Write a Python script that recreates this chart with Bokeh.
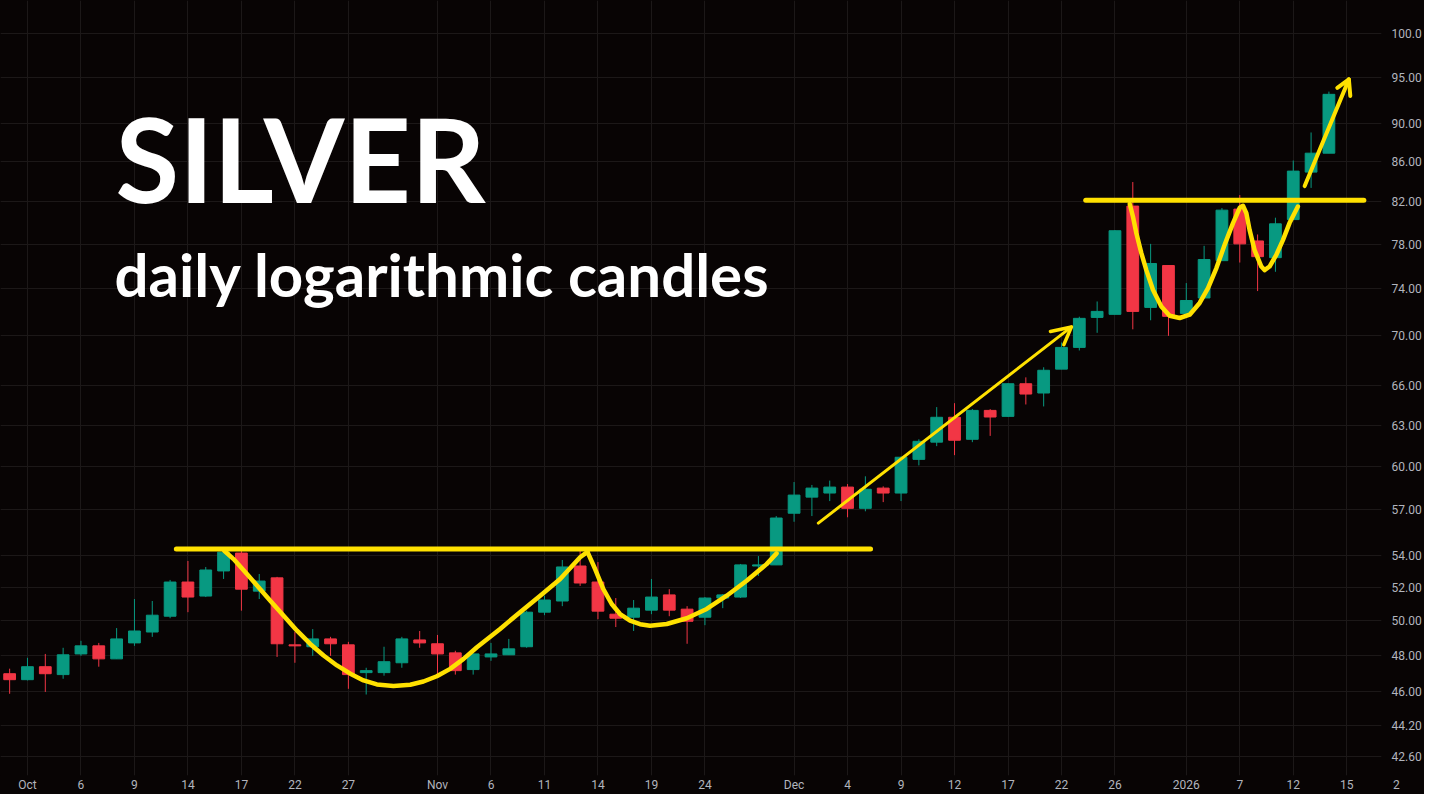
import numpy as np
from bokeh.plotting import figure
from bokeh.models import Range1d, FixedTicker, CustomJSTickFormatter, Label, ColumnDataSource
from bokeh.embed import file_html
from bokeh.resources import INLINE

# ---------------- data (daily silver candles, Sep 30 2025 -> Jan 14 2026) ----------------
dates = ["2025-09-30", "2025-10-01", "2025-10-02", "2025-10-03", "2025-10-06", "2025-10-07", "2025-10-08",
         "2025-10-09", "2025-10-10", "2025-10-13", "2025-10-14", "2025-10-15", "2025-10-16", "2025-10-17",
         "2025-10-20", "2025-10-21", "2025-10-22", "2025-10-23", "2025-10-24", "2025-10-27", "2025-10-28",
         "2025-10-29", "2025-10-30", "2025-10-31", "2025-11-03", "2025-11-04", "2025-11-05", "2025-11-06",
         "2025-11-07", "2025-11-10", "2025-11-11", "2025-11-12", "2025-11-13", "2025-11-14", "2025-11-17",
         "2025-11-18", "2025-11-19", "2025-11-20", "2025-11-21", "2025-11-24", "2025-11-25", "2025-11-26",
         "2025-11-27", "2025-11-28", "2025-12-01", "2025-12-02", "2025-12-03", "2025-12-04", "2025-12-05",
         "2025-12-08", "2025-12-09", "2025-12-10", "2025-12-11", "2025-12-12", "2025-12-15", "2025-12-16",
         "2025-12-17", "2025-12-18", "2025-12-19", "2025-12-22", "2025-12-23", "2025-12-24", "2025-12-26",
         "2025-12-29", "2025-12-30", "2025-12-31", "2026-01-02", "2026-01-05", "2026-01-06", "2026-01-07",
         "2026-01-08", "2026-01-09", "2026-01-12", "2026-01-13", "2026-01-14"]

opens = [46.97, 46.64, 47.36, 46.92, 48.08, 48.54, 47.80, 48.71, 49.34, 50.27, 52.34, 51.48, 53.03, 54.16,
         51.78, 52.60, 48.60, 48.49, 48.94, 48.60, 47.03, 47.03, 47.58, 48.88, 48.66, 48.14, 47.20, 47.91,
         48.03, 48.49, 50.51, 51.18, 53.34, 52.34, 50.39, 50.21, 50.63, 51.55, 50.69, 50.21, 51.36, 51.42,
         53.34, 53.41, 56.77, 57.86, 58.14, 58.55, 57.10, 58.48, 58.14, 60.50, 61.74, 63.58, 61.95, 64.10,
         63.65, 66.15, 65.43, 67.30, 69.05, 71.54, 71.80, 81.59, 72.39, 76.06, 71.88, 73.20, 76.50, 81.30,
         78.30, 76.77, 80.30, 84.93, 86.85]
highs = [47.25, 47.86, 48.08, 48.43, 48.83, 48.71, 49.57, 51.30, 51.18, 52.47, 53.66, 53.28, 54.50, 54.50,
         52.84, 52.66, 49.34, 49.51, 49.06, 48.77, 47.30, 48.49, 49.06, 49.40, 49.17, 48.26, 48.10, 48.71,
         48.94, 50.60, 51.50, 53.72, 54.30, 53.59, 51.36, 51.24, 52.53, 51.90, 50.87, 51.42, 51.60, 53.47,
         53.97, 56.58, 58.90, 58.70, 59.00, 58.76, 59.30, 58.60, 60.70, 61.95, 64.35, 64.65, 64.20, 64.20,
         66.20, 66.65, 67.45, 69.45, 71.60, 72.90, 79.30, 83.94, 78.03, 76.10, 74.50, 77.85, 81.40, 82.66,
         78.90, 80.48, 86.10, 89.00, 93.40]
lows = [45.87, 46.60, 45.97, 46.69, 47.97, 47.36, 47.80, 48.54, 49.06, 50.15, 50.51, 51.42, 52.53, 50.60,
        51.30, 47.91, 47.58, 47.97, 47.97, 46.14, 45.83, 46.86, 47.30, 48.43, 46.92, 46.92, 46.92, 47.69,
        48.03, 48.43, 50.33, 50.87, 52.10, 50.09, 49.63, 49.40, 50.39, 50.27, 48.66, 49.74, 50.75, 51.36,
        52.72, 53.40, 56.20, 56.58, 57.59, 56.50, 56.90, 57.52, 57.59, 60.07, 61.45, 60.80, 61.74, 62.20,
        63.60, 64.55, 64.40, 67.30, 68.80, 70.25, 71.80, 70.54, 71.30, 70.00, 71.88, 73.20, 76.50, 76.33,
        73.80, 75.50, 80.30, 83.36, 86.85]
closes = [46.64, 47.36, 46.97, 48.03, 48.54, 47.80, 48.94, 49.40, 50.33, 52.34, 51.42, 53.09, 54.22, 51.90,
          52.40, 48.66, 48.54, 48.94, 48.66, 46.92, 47.14, 47.64, 48.94, 48.71, 48.08, 47.14, 48.08, 48.08,
          48.37, 50.51, 51.24, 53.28, 52.28, 50.57, 50.15, 50.75, 51.42, 50.63, 49.97, 51.36, 51.55, 53.41,
          53.41, 56.45, 58.00, 58.48, 58.55, 57.10, 58.40, 58.14, 60.65, 61.80, 63.58, 61.88, 64.10, 63.60,
          66.15, 65.35, 67.21, 69.05, 71.46, 72.05, 79.25, 72.05, 76.24, 71.63, 72.98, 76.60, 81.20, 78.03,
          76.86, 79.90, 85.03, 86.85, 93.10]

# time-axis ticks (bar number -> label); the last one sits at the right edge of the chart
X_START, X_END = -0.513, 76.95
time_tick_pos = [1, 4, 7, 10, 13, 16, 19, 24, 27, 30, 33, 36, 39, 44, 47, 50, 53, 56, 59, 62, 66, 69, 72, 75]
time_tick_labels = ["Oct", "6", "9", "14", "17", "22", "27", "Nov", "6", "11", "14", "19", "24",
                    "Dec", "4", "9", "12", "17", "22", "26", "2026", "7", "12", "15"]
edge_tick_label = "\u00a0" * 10 + "2"
price_ticks = [42.6, 44.2, 46, 48, 50, 52, 54, 57, 60, 63, 66, 70, 74, 78, 82, 86, 90, 95, 100]

# hand-drawn yellow annotations (bar number, price)
resist1_x = [9.35, 48.29]
resist1_y = [54.42, 54.42]
cup1_x = [12.04, 12.56, 13.31, 13.97, 14.62, 15.37, 16.12, 16.86, 17.61, 18.36, 19.11, 19.85, 20.60,
          21.53, 22.47, 23.21, 23.96, 24.71, 25.46, 26.21, 27.51, 28.63, 29.76, 30.88, 32.00, 32.41]
cup1_y = [54.31, 53.78, 52.84, 52.01, 51.20, 50.30, 49.42, 48.65, 47.99, 47.43, 46.97, 46.60, 46.38,
          46.29, 46.36, 46.54, 46.83, 47.24, 47.80, 48.46, 49.52, 50.51, 51.50, 52.53, 53.89, 54.24]
cup2_x = [32.41, 32.84, 33.30, 33.77, 34.24, 34.80, 35.36, 35.92, 36.86, 37.98, 39.10, 40.22, 41.34,
          42.46, 43.02]
cup2_y = [54.24, 53.15, 51.91, 51.00, 50.40, 50.01, 49.80, 49.71, 49.81, 50.15, 50.70, 51.50, 52.42,
          53.46, 54.14]
arrow1_x = [45.36, 59.56]
arrow1_y = [56.11, 70.74]
arrow1_head_x = [58.38, 59.56, 59.13]
arrow1_head_y = [70.36, 70.74, 69.27]
resist2_x = [60.36, 75.96]
resist2_y = [82.15, 82.15]
wcurve_x = [62.83, 63.01, 63.20, 63.48, 63.76, 64.13, 64.60, 65.07, 65.63, 66.19, 66.75, 67.22, 67.69,
            68.15, 68.62, 69.00, 69.18, 69.37, 69.55, 69.83, 70.21, 70.39, 70.67, 71.05, 71.42, 71.79, 72.26]
wcurve_y = [81.79, 80.57, 79.01, 77.18, 75.65, 73.91, 72.47, 71.68, 71.49, 71.77, 72.77, 74.06, 75.83,
            77.94, 79.97, 81.43, 81.62, 80.90, 79.33, 77.46, 75.97, 75.65, 75.97, 77.03, 78.38, 79.97, 81.55]
arrow2_x = [72.64, 75.12]
arrow2_y = [83.54, 94.76]
arrow2_head_x = [74.47, 75.12, 75.20]
arrow2_head_y = [93.82, 94.76, 92.92]

# ---------------- styling ----------------
BG = "#080404"
GRID = "#1c1818"
UP = "#089981"
DOWN = "#f23645"
YEL = "#ffe100"
AXIS_TXT = "#b2b5be"

o = np.array(opens)
c = np.array(closes)
src = ColumnDataSource(dict(
    x=np.arange(len(dates)),
    top=np.maximum(o, c),
    bottom=np.minimum(o, c),
    high=highs,
    low=lows,
    color=[UP if cc >= oo else DOWN for oo, cc in zip(opens, closes)],
))

p = figure(width=1424, height=794, y_axis_type="log", y_axis_location="right",
           x_range=Range1d(X_START, X_END), y_range=Range1d(41.65, 104.01),
           output_backend="svg", toolbar_location=None,
           min_border_left=0, min_border_top=0, min_border_right=42, min_border_bottom=17,
           background_fill_color=BG, border_fill_color=BG, outline_line_color=None)
p.styles = {"background-color": BG}

# grid
p.xgrid.ticker = FixedTicker(ticks=time_tick_pos)
p.xgrid.bounds = (X_START, time_tick_pos[-1] + 0.5)
p.ygrid.ticker = FixedTicker(ticks=price_ticks)
p.xgrid.grid_line_color = GRID
p.ygrid.grid_line_color = GRID

# axes
axis_ticks = time_tick_pos + [X_END]
axis_labels = time_tick_labels + [edge_tick_label]
p.xaxis.ticker = FixedTicker(ticks=axis_ticks)
p.xaxis.major_label_overrides = dict(zip(axis_ticks, axis_labels))
p.yaxis.ticker = FixedTicker(ticks=price_ticks)
p.yaxis.formatter = CustomJSTickFormatter(code="return tick >= 100 ? tick.toFixed(1) : tick.toFixed(2);")
for ax in (p.xaxis, p.yaxis):
    ax.axis_line_color = None
    ax.major_tick_line_color = None
    ax.minor_tick_line_color = None
    ax.major_tick_out = 0
    ax.major_tick_in = 0
    ax.major_label_text_color = AXIS_TXT
    ax.major_label_text_font = "Roboto"
    ax.major_label_text_font_size = "12px"
p.xaxis.major_label_standoff = 2
p.yaxis.major_label_standoff = 10

# candles
p.segment(x0="x", y0="low", x1="x", y1="high", line_color="color", line_width=1, source=src)
p.vbar(x="x", width=0.66, top="top", bottom="bottom", fill_color="color",
       line_color="color", line_width=1, source=src)

# annotations
def yline(xs, ys, w):
    p.line(xs, ys, line_color=YEL, line_width=w, line_cap="round", line_join="round")

yline(resist1_x, resist1_y, 5)
yline(cup1_x, cup1_y, 4.5)
yline(cup2_x, cup2_y, 4.5)
yline(arrow1_x, arrow1_y, 3)
yline(arrow1_head_x, arrow1_head_y, 3.5)
yline(resist2_x, resist2_y, 5)
yline(wcurve_x, wcurve_y, 4.5)
yline(arrow2_x, arrow2_y, 4)
yline(arrow2_head_x, arrow2_head_y, 4)

# texts (positions relative to the plot frame)
p.add_layout(Label(x=115, y=617.5, x_units="screen", y_units="screen", text="SILVER",
                   text_font="Lato", text_font_style="bold", text_font_size="116px",
                   text_color="white", text_baseline="alphabetic"))
p.add_layout(Label(x=114, y=502, x_units="screen", y_units="screen", text="daily logarithmic candles",
                   text_font="Lato", text_font_style="bold", text_font_size="60px",
                   text_color="white", text_baseline="alphabetic"))

open("out.html", "w").write(file_html(p, INLINE))
